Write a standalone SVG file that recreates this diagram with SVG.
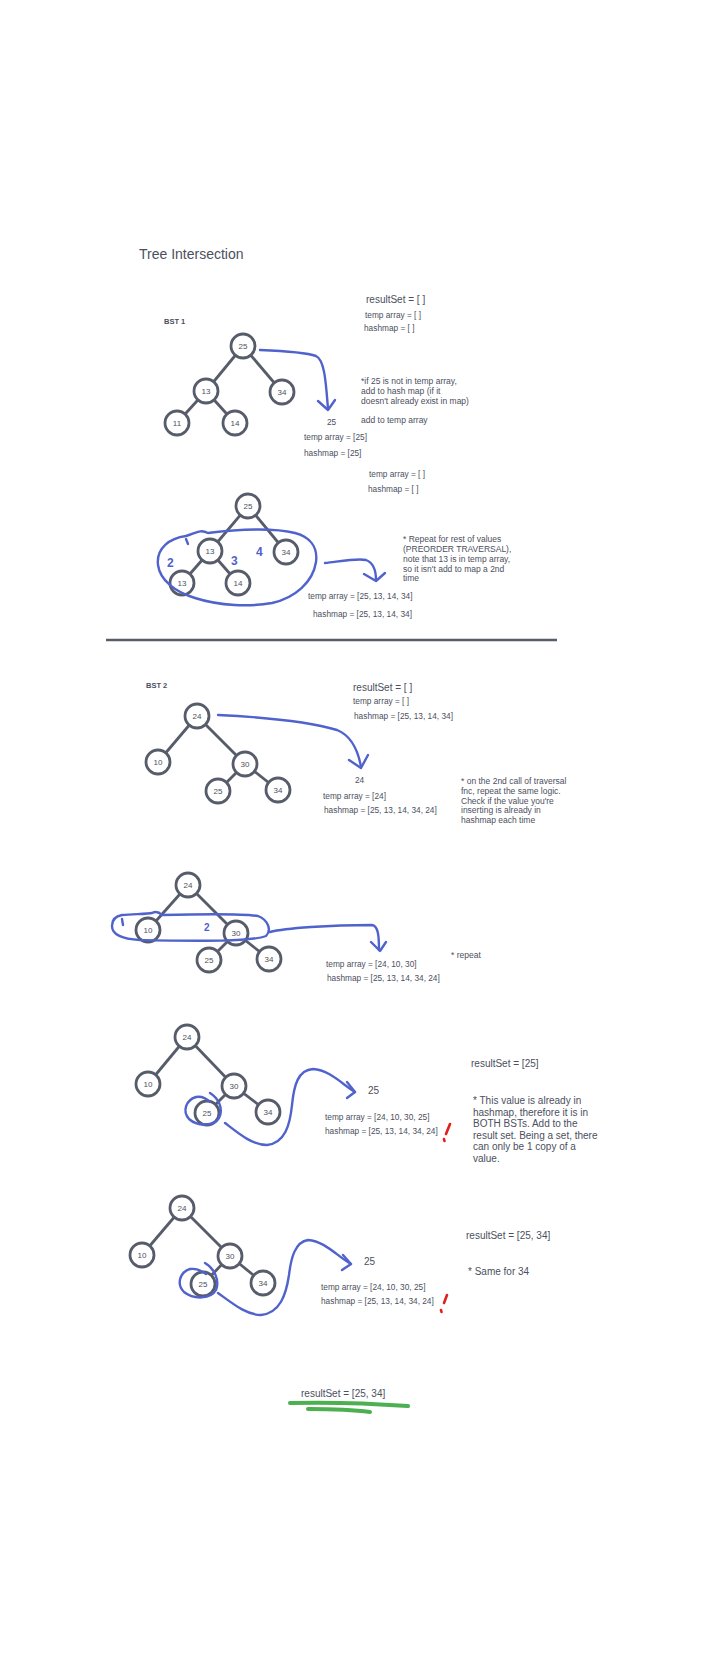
<svg xmlns="http://www.w3.org/2000/svg" width="708" height="1660" viewBox="0 0 708 1660">
<style>
text{font-family:"Liberation Sans",Arial,sans-serif;fill:#4b4f5e}
.t{font-size:8.3px}
.n{font-size:8.5px}
.m{font-size:10px}
.title{font-size:14px}
.bst{font-size:7.5px;font-weight:bold}
.lbl{font-size:8px;text-anchor:middle}
.node circle{fill:#fff;stroke:#575c6b;stroke-width:2.8}
.edge{stroke:#575c6b;stroke-width:2.8;fill:none}
.ink{fill:none;stroke:#5062cc;stroke-width:2.4;stroke-linecap:round;stroke-linejoin:round}
.dig{font-size:12px;font-weight:bold;fill:#5062cc}
.red{fill:none;stroke:#e0201c;stroke-width:2.6;stroke-linecap:round}
.grn{fill:none;stroke:#4caf50;stroke-width:4;stroke-linecap:round}
</style>
<rect width="708" height="1660" fill="#fff"/>
<text class="title" x="139" y="259">Tree Intersection</text>

<!-- Section 1 -->
<text class="bst" x="164" y="324">BST 1</text>
<text class="m" x="366" y="303">resultSet = [ ]</text>
<text class="t" x="365" y="318">temp array = [ ]</text>
<text class="t" x="364" y="331">hashmap = [ ]</text>
<text class="n" x="361" y="384">*if 25 is not in temp array,</text>
<text class="n" x="361" y="394">add to hash map (if it</text>
<text class="n" x="361" y="404">doesn't already exist in map)</text>
<text class="n" x="361" y="423">add to temp array</text>
<text class="t" x="327" y="425">25</text>
<text class="t" x="304" y="440">temp array = [25]</text>
<text class="t" x="304" y="456">hashmap = [25]</text>

<!-- Section 2 -->
<text class="t" x="369" y="477">temp array = [ ]</text>
<text class="t" x="368" y="492">hashmap = [ ]</text>
<text class="n" x="403" y="542">* Repeat for rest of values</text>
<text class="n" x="403" y="552">(PREORDER TRAVERSAL),</text>
<text class="n" x="403" y="562">note that 13 is in temp array,</text>
<text class="n" x="403" y="572">so it isn't add to map a 2nd</text>
<text class="n" x="403" y="581">time</text>
<text class="t" x="308" y="599">temp array = [25, 13, 14, 34]</text>
<text class="t" x="313" y="617">hashmap = [25, 13, 14, 34]</text>
<line x1="106" y1="640" x2="557" y2="640" stroke="#575c6b" stroke-width="2.6"/>

<!-- Section 3 -->
<text class="bst" x="146" y="688">BST 2</text>
<text class="m" x="353" y="691">resultSet = [ ]</text>
<text class="t" x="353" y="704">temp array = [ ]</text>
<text class="t" x="354" y="719">hashmap = [25, 13, 14, 34]</text>
<text class="t" x="355" y="783">24</text>
<text class="t" x="323" y="799">temp array = [24]</text>
<text class="t" x="324" y="813">hashmap = [25, 13, 14, 34, 24]</text>
<text class="n" x="461" y="784">* on the 2nd call of traversal</text>
<text class="n" x="461" y="794">fnc, repeat the same logic.</text>
<text class="n" x="461" y="804">Check if the value you're</text>
<text class="n" x="461" y="813">inserting is already in</text>
<text class="n" x="461" y="823">hashmap each time</text>

<!-- Section 4 -->
<text class="t" x="326" y="967">temp array = [24, 10, 30]</text>
<text class="t" x="327" y="981">hashmap = [25, 13, 14, 34, 24]</text>
<text class="n" x="451" y="958">* repeat</text>

<!-- Section 5 -->
<text class="m" x="471" y="1067">resultSet = [25]</text>
<text class="m" x="368" y="1094">25</text>
<text class="t" x="325" y="1120">temp array = [24, 10, 30, 25]</text>
<text class="t" x="325" y="1134">hashmap = [25, 13, 14, 34, 24]</text>
<text class="m" x="473" y="1104">* This value is already in</text>
<text class="m" x="473" y="1116">hashmap, therefore it is in</text>
<text class="m" x="473" y="1127">BOTH BSTs. Add to the</text>
<text class="m" x="473" y="1139">result set. Being a set, there</text>
<text class="m" x="473" y="1150">can only be 1 copy of a</text>
<text class="m" x="473" y="1162">value.</text>

<!-- Section 6 -->
<text class="m" x="466" y="1239">resultSet = [25, 34]</text>
<text class="m" x="364" y="1265">25</text>
<text class="m" x="468" y="1275">* Same for 34</text>
<text class="t" x="321" y="1290">temp array = [24, 10, 30, 25]</text>
<text class="t" x="321" y="1304">hashmap = [25, 13, 14, 34, 24]</text>

<!-- Final -->
<text class="m" x="301" y="1397">resultSet = [25, 34]</text>

<g id="connectors">
<!-- tree A -->
<line class="edge" x1="243" y1="346" x2="206" y2="391"/>
<line class="edge" x1="243" y1="346" x2="282" y2="392"/>
<line class="edge" x1="206" y1="391" x2="177" y2="423"/>
<line class="edge" x1="206" y1="391" x2="235" y2="423"/>
<!-- tree B -->
<line class="edge" x1="248" y1="506" x2="210" y2="551"/>
<line class="edge" x1="248" y1="506" x2="286" y2="552"/>
<line class="edge" x1="210" y1="551" x2="182" y2="583"/>
<line class="edge" x1="210" y1="551" x2="238" y2="583"/>
<!-- tree C -->
<line class="edge" x1="197" y1="716" x2="158" y2="762"/>
<line class="edge" x1="197" y1="716" x2="245" y2="764"/>
<line class="edge" x1="245" y1="764" x2="218" y2="791"/>
<line class="edge" x1="245" y1="764" x2="278" y2="790"/>
<!-- tree D -->
<line class="edge" x1="188" y1="885" x2="148" y2="930"/>
<line class="edge" x1="188" y1="885" x2="236" y2="933"/>
<line class="edge" x1="236" y1="933" x2="209" y2="960"/>
<line class="edge" x1="236" y1="933" x2="269" y2="959"/>
<!-- tree E -->
<line class="edge" x1="187" y1="1037" x2="148" y2="1084"/>
<line class="edge" x1="187" y1="1037" x2="234" y2="1086"/>
<line class="edge" x1="234" y1="1086" x2="207" y2="1113"/>
<line class="edge" x1="234" y1="1086" x2="268" y2="1112"/>
<!-- tree F -->
<line class="edge" x1="182" y1="1208" x2="142" y2="1255"/>
<line class="edge" x1="182" y1="1208" x2="230" y2="1256"/>
<line class="edge" x1="230" y1="1256" x2="203" y2="1284"/>
<line class="edge" x1="230" y1="1256" x2="263" y2="1283"/>
</g>

<!-- nodes tree A -->
<g id="a25" class="node"><circle cx="243" cy="346" r="12"/><text class="lbl" x="243" y="349">25</text></g>
<g id="a13" class="node"><circle cx="206" cy="391" r="12"/><text class="lbl" x="206" y="394">13</text></g>
<g id="a34" class="node"><circle cx="282" cy="392" r="12"/><text class="lbl" x="282" y="395">34</text></g>
<g id="a11" class="node"><circle cx="177" cy="423" r="12"/><text class="lbl" x="177" y="426">11</text></g>
<g id="a14" class="node"><circle cx="235" cy="423" r="12"/><text class="lbl" x="235" y="426">14</text></g>
<!-- nodes tree B -->
<g id="b25" class="node"><circle cx="248" cy="506" r="12"/><text class="lbl" x="248" y="509">25</text></g>
<g id="b13" class="node"><circle cx="210" cy="551" r="12"/><text class="lbl" x="210" y="554">13</text></g>
<g id="b34" class="node"><circle cx="286" cy="552" r="12"/><text class="lbl" x="286" y="555">34</text></g>
<g id="b13b" class="node"><circle cx="182" cy="583" r="12"/><text class="lbl" x="182" y="586">13</text></g>
<g id="b14" class="node"><circle cx="238" cy="583" r="12"/><text class="lbl" x="238" y="586">14</text></g>
<!-- nodes tree C -->
<g id="c24" class="node"><circle cx="197" cy="716" r="12"/><text class="lbl" x="197" y="719">24</text></g>
<g id="c10" class="node"><circle cx="158" cy="762" r="12"/><text class="lbl" x="158" y="765">10</text></g>
<g id="c30" class="node"><circle cx="245" cy="764" r="12"/><text class="lbl" x="245" y="767">30</text></g>
<g id="c25" class="node"><circle cx="218" cy="791" r="12"/><text class="lbl" x="218" y="794">25</text></g>
<g id="c34" class="node"><circle cx="278" cy="790" r="12"/><text class="lbl" x="278" y="793">34</text></g>
<!-- nodes tree D -->
<g id="d24" class="node"><circle cx="188" cy="885" r="12"/><text class="lbl" x="188" y="888">24</text></g>
<g id="d10" class="node"><circle cx="148" cy="930" r="12"/><text class="lbl" x="148" y="933">10</text></g>
<g id="d30" class="node"><circle cx="236" cy="933" r="12"/><text class="lbl" x="236" y="936">30</text></g>
<g id="d25" class="node"><circle cx="209" cy="960" r="12"/><text class="lbl" x="209" y="963">25</text></g>
<g id="d34" class="node"><circle cx="269" cy="959" r="12"/><text class="lbl" x="269" y="962">34</text></g>
<!-- nodes tree E -->
<g id="e24" class="node"><circle cx="187" cy="1037" r="12"/><text class="lbl" x="187" y="1040">24</text></g>
<g id="e10" class="node"><circle cx="148" cy="1084" r="12"/><text class="lbl" x="148" y="1087">10</text></g>
<g id="e30" class="node"><circle cx="234" cy="1086" r="12"/><text class="lbl" x="234" y="1089">30</text></g>
<g id="e25" class="node"><circle cx="207" cy="1113" r="12"/><text class="lbl" x="207" y="1116">25</text></g>
<g id="e34" class="node"><circle cx="268" cy="1112" r="12"/><text class="lbl" x="268" y="1115">34</text></g>
<!-- nodes tree F -->
<g id="f24" class="node"><circle cx="182" cy="1208" r="12"/><text class="lbl" x="182" y="1211">24</text></g>
<g id="f10" class="node"><circle cx="142" cy="1255" r="12"/><text class="lbl" x="142" y="1258">10</text></g>
<g id="f30" class="node"><circle cx="230" cy="1256" r="12"/><text class="lbl" x="230" y="1259">30</text></g>
<g id="f25" class="node"><circle cx="203" cy="1284" r="12"/><text class="lbl" x="203" y="1287">25</text></g>
<g id="f34" class="node"><circle cx="263" cy="1283" r="12"/><text class="lbl" x="263" y="1286">34</text></g>

<g id="ink">
<!-- section 1 arrow -->
<path class="ink" d="M260,350 C285,351 305,352 316,356 C325,360 326,385 328,409"/>
<path class="ink" d="M318,401 L328,410 L335,400"/>
<!-- section 2 loop -->
<path class="ink" d="M186,536 C196,533 200,529 208,533 C240,529 275,528 295,533 C310,537 318,547 316,562 C313,582 295,598 272,603 C250,607 220,606 195,598 C175,592 160,580 158,565 C156,548 170,538 186,536"/>
<path class="ink" d="M186,539 L188,544" stroke-width="2"/>
<text class="dig" x="167" y="567">2</text>
<text class="dig" x="231" y="565">3</text>
<text class="dig" x="256" y="556">4</text>
<path class="ink" d="M325,563 C342,561 358,558 366,560 C374,563 376,572 376,580"/>
<path class="ink" d="M364,574 L376,581 L385,573"/>
<!-- section 3 arrow -->
<path class="ink" d="M218,715 C260,717 310,722 337,730 C352,736 358,750 361,767"/>
<path class="ink" d="M349,760 L361,768 L368,755"/>
<!-- section 4 loop + arrow -->
<path class="ink" d="M122,915 C135,914 148,914 152,913 C156,911 160,913 162,915 C200,914 240,913 258,916 C268,920 272,930 266,936 C250,942 200,941 140,940 C122,939 112,935 112,926 C112,919 116,916 122,915"/>
<path class="ink" d="M122,919 L123,925" stroke-width="2"/>
<text class="dig" x="204" y="931" style="font-size:10px">2</text>
<path class="ink" d="M270,932 C285,928 330,925 372,925 C378,926 379,935 379,950"/>
<path class="ink" d="M371,942 L380,951 L386,942"/>
<!-- section 5 curve -->
<path class="ink" d="M210,1093 C218,1098 224,1108 219,1118 C214,1126 198,1127 189,1119 C182,1111 186,1100 196,1097 C202,1096 207,1099 210,1102"/>
<path class="ink" d="M225,1123 C238,1133 252,1145 267,1145 C285,1143 290,1125 292,1105 C294,1085 298,1070 313,1069 C330,1070 343,1085 355,1092"/>
<path class="ink" d="M347,1082 L355,1092 L347,1098"/>
<!-- section 6 curve -->
<path class="ink" d="M205,1263 C214,1268 220,1280 216,1290 C211,1299 194,1300 184,1292 C176,1284 180,1272 190,1269 C197,1268 202,1271 206,1274"/>
<path class="ink" d="M218,1293 C232,1303 246,1315 261,1315 C280,1313 286,1295 289,1275 C291,1258 295,1242 308,1240 C325,1241 338,1257 351,1264"/>
<path class="ink" d="M343,1255 L351,1264 L342,1270"/>
<!-- red marks -->
<path class="red" d="M450,1124 L446,1134"/>
<path class="red" d="M444,1139 L444.5,1141"/>
<path class="red" d="M447,1295 L444,1303"/>
<path class="red" d="M441,1310 L441.5,1312"/>
<!-- green underline -->
<path class="grn" d="M290,1403 C330,1402 380,1404 408,1406"/>
<path class="grn" d="M308,1409 C330,1409 355,1410 370,1412"/>
</g>
</svg>
